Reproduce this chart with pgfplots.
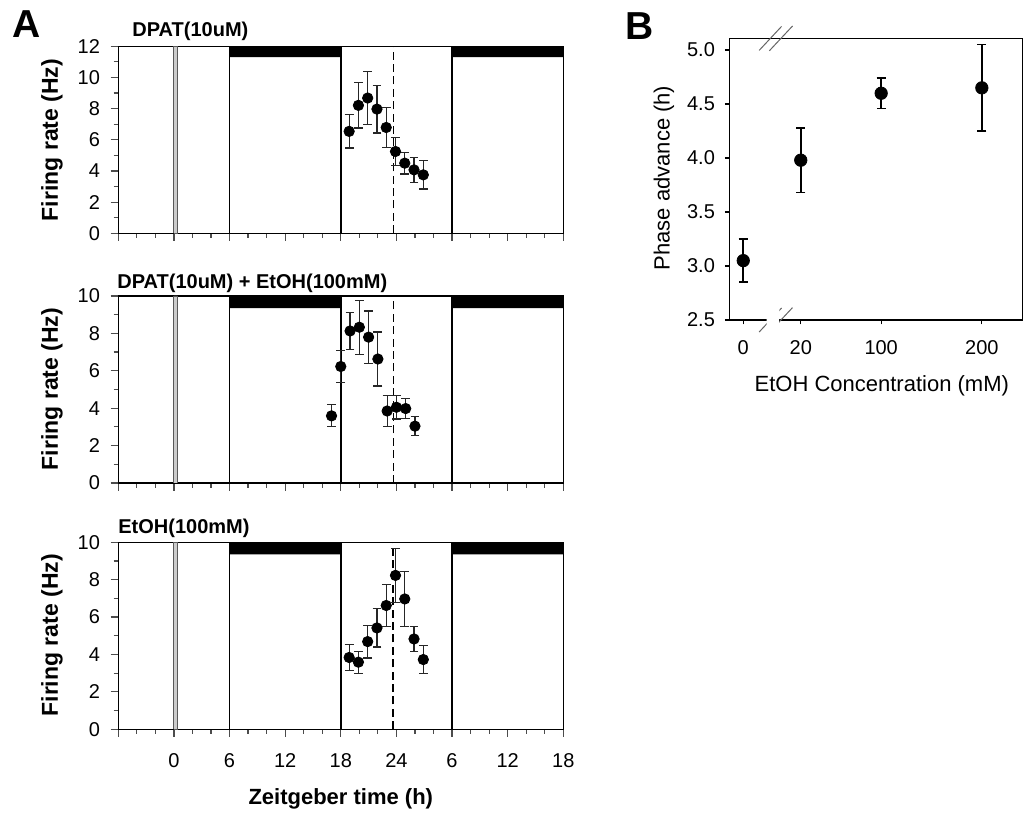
\documentclass[border=0pt]{standalone}
\usepackage{pgfplots}
\usepackage{pgfplotstable}
\usepackage{fontspec}
\setmainfont{Liberation Sans}
\pgfplotsset{compat=1.18}

% firing rate, ZT (h), mean and s.e.m.
\pgfplotstableread{
x y e
18.9 6.54 1.07
19.9 8.21 1.45
20.9 8.68 1.70
21.9 7.97 1.53
22.9 6.79 1.27
23.9 5.25 0.88
24.9 4.50 0.70
25.9 4.07 0.79
26.9 3.75 0.91
}\dpat
\pgfplotstableread{
x y e
17 3.59 0.59
18 6.23 0.87
19 8.13 1.00
20 8.33 1.44
21 7.80 1.40
22 6.63 1.44
23 3.85 0.81
24 4.05 0.63
25 3.98 0.54
26 3.04 0.52
}\dpatetoh
\pgfplotstableread{
x y e
18.9 3.84 0.70
19.9 3.59 0.59
20.9 4.69 0.88
21.9 5.42 1.02
22.9 6.62 1.12
23.9 8.23 1.44
24.9 6.97 1.46
25.9 4.83 0.67
26.9 3.73 0.76
}\etoh
% phase advance; x = position on axis
\pgfplotstableread{
x y e
14.0 3.05 0.20
71.7 3.98 0.30
152.4 4.60 0.14
253.4 4.65 0.40
}\phase

\pgfplotsset{
  ticklbl/.style={font=\fontsize{10}{12}\selectfont},
  panelA/.style={
    scale only axis, width=222.5pt, height=93.5pt,
    xmin=-6, xmax=42, ymin=0,
    axis line style={line width=0.75pt},
    xtick={-6,0,...,42},
    minor xtick={-4,-2,2,4,8,10,14,16,20,22,26,28,32,34,38,40},
    tick align=outside, xtick pos=bottom, ytick pos=left,
    major tick length=3.8pt, minor tick length=2.3pt,
    tick style={black!70, line width=0.6pt},
    tick label style={ticklbl, inner sep=0pt, /pgf/number format/assume math mode=true},
    yticklabel style={xshift=-5.2pt},
    xticklabel style={yshift=-8pt},
  },
  pts/.style={only marks, mark=*, mark size=2.6pt, black,
    error bars/.cd, y dir=both, y explicit,
    error bar style={line width=0.6pt, black!85},
    error mark options={rotate=90, line width=0.6pt, mark size=2.2pt, black!85}},
}

\newcommand{\decor}[3]{%
  \addplot[fill=black, draw=none] coordinates {(6,#2) (18,#2) (18,#1) (6,#1) (6,#2)};
  \addplot[fill=black, draw=none] coordinates {(30,#2) (42,#2) (42,#1) (30,#1) (30,#2)};
  \addplot[fill=gray!40, draw=black!65, line width=0.45pt] coordinates {(0,0) (0.4,0) (0.4,#1) (0,#1) (0,0)};
  \addplot[black, line width=0.75pt] coordinates {(6,0) (6,#1)};
  \addplot[black, line width=0.75pt] coordinates {(18,0) (18,#1)};
  \addplot[black, line width=0.75pt] coordinates {(30,0) (30,#1)};
  \addplot[black, line width=0.8pt, dash pattern=on 4pt off 2.2pt] coordinates {(#3,0) (#3,#1)};
}
\newcommand{\brk}[1]{%
  \fill[white] (axis cs:41.2,#1) ++(-3pt,-1.2pt) -- ++(5.4pt,0) -- ++(2.2pt,2.4pt) -- ++(-5.4pt,0) -- cycle;
  \draw[black!60, line width=0.5pt] (axis cs:41.2,#1) ++(-5.6pt,-6pt) -- ++(11.2pt,12pt);
  \draw[black!60, line width=0.5pt] (axis cs:51.8,#1) ++(-5.8pt,-6.2pt) -- ++(11.6pt,12.4pt);
}

\begin{document}
\begin{tikzpicture}
% ---- A, top
\begin{axis}[panelA, at={(59.15pt,290.85pt)}, anchor=south west,
  ymax=12, ytick={0,2,...,12}, minor ytick={1,3,...,11}, xticklabels={}]
\decor{12}{11.3}{23.7}
\addplot[pts] table[x=x, y=y, y error=e] {\dpat};
\end{axis}
% ---- A, middle
\begin{axis}[panelA, at={(59.15pt,166pt)}, anchor=south west,
  ymax=10, ytick={0,2,...,10}, minor ytick={1,3,...,9}, xticklabels={}]
\decor{10}{9.35}{23.7}
\addplot[pts] table[x=x, y=y, y error=e] {\dpatetoh};
\end{axis}
% ---- A, bottom
\begin{axis}[panelA, at={(59.15pt,42.85pt)}, anchor=south west,
  ymax=10, ytick={0,2,...,10}, minor ytick={1,3,...,9},
  xticklabels={,0,6,12,18,24,6,12,18}]
\decor{10}{9.35}{23.65}
\addplot[pts] table[x=x, y=y, y error=e] {\etoh};
\end{axis}
% ---- B
\begin{axis}[scale only axis, at={(364.65pt,247.5pt)}, anchor=south west,
  width=146.6pt, height=140.8pt,
  xmin=0, xmax=294.2, ymin=2.5, ymax=5.108,
  axis line style={line width=0.75pt},
  xtick={14,71.7,152.4,253.4}, xticklabels={0,20,100,200},
  ytick={2.5,3,3.5,4,4.5,5},
  tick align=outside, xtick pos=bottom, ytick pos=left,
  major tick length=2.2pt, tick style={black, line width=0.6pt},
  tick label style={ticklbl, inner sep=0pt},
  yticklabel style={xshift=-4.8pt, /pgf/number format/.cd, fixed, fixed zerofill, precision=1, assume math mode=true},
  xticklabel style={yshift=-7.8pt},
  clip=false]
\addplot[only marks, mark=*, mark size=3.1pt, black,
  error bars/.cd, y dir=both, y explicit,
  error bar style={line width=0.8pt, black},
  error mark options={rotate=90, line width=0.8pt, mark size=2.3pt, black}]
  table[x=x, y=y, y error=e] {\phase};
\brk{2.5}
\brk{5.108}
\end{axis}
% ---- text
\node[anchor=base west, inner sep=0pt, font=\fontsize{19.5}{21}\selectfont\bfseries] at (6pt,388.5pt) {A};
\node[anchor=base west, inner sep=0pt, font=\fontsize{19.5}{21}\selectfont\bfseries] at (312.5pt,387.9pt) {B};
\node[anchor=base west, inner sep=0pt, font=\fontsize{10}{12}\selectfont\bfseries] at (66pt,389.2pt) {DPAT(10uM)};
\node[anchor=base west, inner sep=0pt, font=\fontsize{10}{12}\selectfont\bfseries] at (58.5pt,263.4pt) {DPAT(10uM) + EtOH(100mM)};
\node[anchor=base west, inner sep=0pt, font=\fontsize{10}{12}\selectfont\bfseries] at (59pt,140.8pt) {EtOH(100mM)};
\foreach \yc in {337.5,213,89.85}{
  \node[rotate=90, inner sep=0pt, font=\fontsize{11.5}{13}\selectfont\bfseries] at (26pt,\yc pt) {Firing rate (Hz)};
}
\node[inner sep=0pt, font=\fontsize{11}{13}\selectfont\bfseries] at (170.4pt,8pt) {Zeitgeber time (h)};
\node[rotate=90, inner sep=0pt, font=\fontsize{11}{13}\selectfont] at (332pt,318.5pt) {Phase advance (h)};
\node[inner sep=0pt, font=\fontsize{11}{13}\selectfont] at (440.9pt,214.5pt) {EtOH Concentration (mM)};
\pgfresetboundingbox
\path (0,0) rectangle (512pt,407.5pt);
\end{tikzpicture}
\end{document}
